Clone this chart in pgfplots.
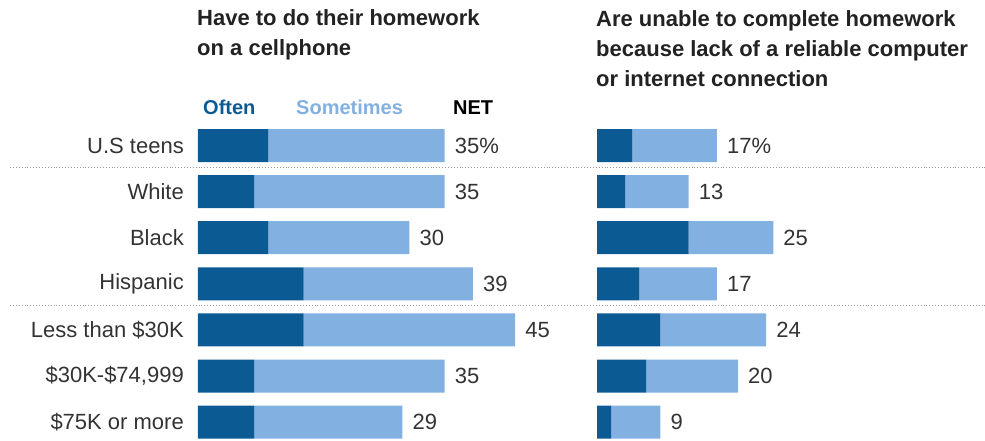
\documentclass[border=0pt]{standalone}
\usepackage{pgfplots}
\pgfplotsset{compat=1.18}
\usepackage{fontspec}
\setmainfont{Liberation Sans}
\definecolor{often}{HTML}{0B5A94}
\definecolor{sometimes}{HTML}{82B0E0}
\definecolor{lbl}{HTML}{333333}
\definecolor{ttl}{HTML}{222222}
\begin{document}
\begin{tikzpicture}
\path[use as bounding box] (0,0) rectangle (985pt,-440pt);
\pgfplotsset{
  base/.style={
    scale only axis, width=352.5pt, height=322.7pt,
    xmin=0, xmax=50, ymin=-0.5, ymax=6.5, y dir=reverse,
    axis line style={draw=none}, major tick length=0pt,
    xtick=\empty, clip=false, anchor=north west,
  },
  panel/.style={base,
    xbar stacked, bar width=33pt, ytick={0,...,6},
    yticklabel style={font=\fontsize{22}{26}\selectfont, text=lbl, anchor=east, inner sep=0pt, xshift=-14pt},
  },
  labels/.style={base, ytick=\empty},
  oftenbar/.style={fill=often, draw=none},
  somebar/.style={fill=sometimes, draw=none},
  netlabel/.style={draw=none, mark=none, point meta=explicit symbolic, nodes near coords,
    every node near coord/.append style={font=\fontsize{22}{26}\selectfont, text=lbl, anchor=west, inner sep=0pt, xshift=10pt}},
}
% Left panel
\begin{axis}[panel, at={(198pt,-122.45pt)},
  yticklabels={U.S teens, White, Black, Hispanic, Less than \$30K, {\$30K-\$74,999}, \$75K or more}]
\addplot[oftenbar] coordinates {(10,0) (8,1) (10,2) (15,3) (15,4) (8,5) (8,6)};
\addplot[somebar] coordinates {(25,0) (27,1) (20,2) (24,3) (30,4) (27,5) (21,6)};
\end{axis}
\begin{axis}[labels, at={(198pt,-122.45pt)}]
\addplot[netlabel] coordinates {(35,0) [35\%] (35,1) [35] (30,2) [30] (39,3) [39] (45,4) [45] (35,5) [35] (29,6) [29]};
\end{axis}
% Right panel
\begin{axis}[panel, at={(597pt,-122.45pt)}, yticklabels={}]
\addplot[oftenbar] coordinates {(5,0) (4,1) (13,2) (6,3) (9,4) (7,5) (2,6)};
\addplot[somebar] coordinates {(12,0) (9,1) (12,2) (11,3) (15,4) (13,5) (7,6)};
\end{axis}
\begin{axis}[labels, at={(597pt,-122.45pt)}]
\addplot[netlabel] coordinates {(17,0) [17\%] (13,1) [13] (25,2) [25] (17,3) [17] (24,4) [24] (20,5) [20] (9,6) [9]};
\end{axis}
% separators
\draw[gray!80, dotted, line width=0.9pt] (10pt,-167pt) -- (985pt,-167pt);
\draw[gray!80, dotted, line width=0.9pt] (10pt,-305pt) -- (985pt,-305pt);
% titles
\begin{scope}[every node/.style={anchor=base west, inner sep=0pt, text=ttl, font=\fontsize{22}{30}\selectfont\bfseries}]
\node at (197pt,-25pt) {Have to do their homework};
\node at (197pt,-55pt) {on a cellphone};
\node at (596pt,-26pt) {Are unable to complete homework};
\node at (596pt,-56pt) {because lack of a reliable computer};
\node at (596pt,-86pt) {or internet connection};
\end{scope}
% legend
\begin{scope}[every node/.style={anchor=base west, inner sep=0pt, font=\fontsize{20}{24}\selectfont\bfseries}]
\node[text=often] at (203pt,-114pt) {Often};
\node[text=sometimes] at (296pt,-114pt) {Sometimes};
\node[text=black] at (453pt,-114pt) {NET};
\end{scope}
\end{tikzpicture}
\end{document}
